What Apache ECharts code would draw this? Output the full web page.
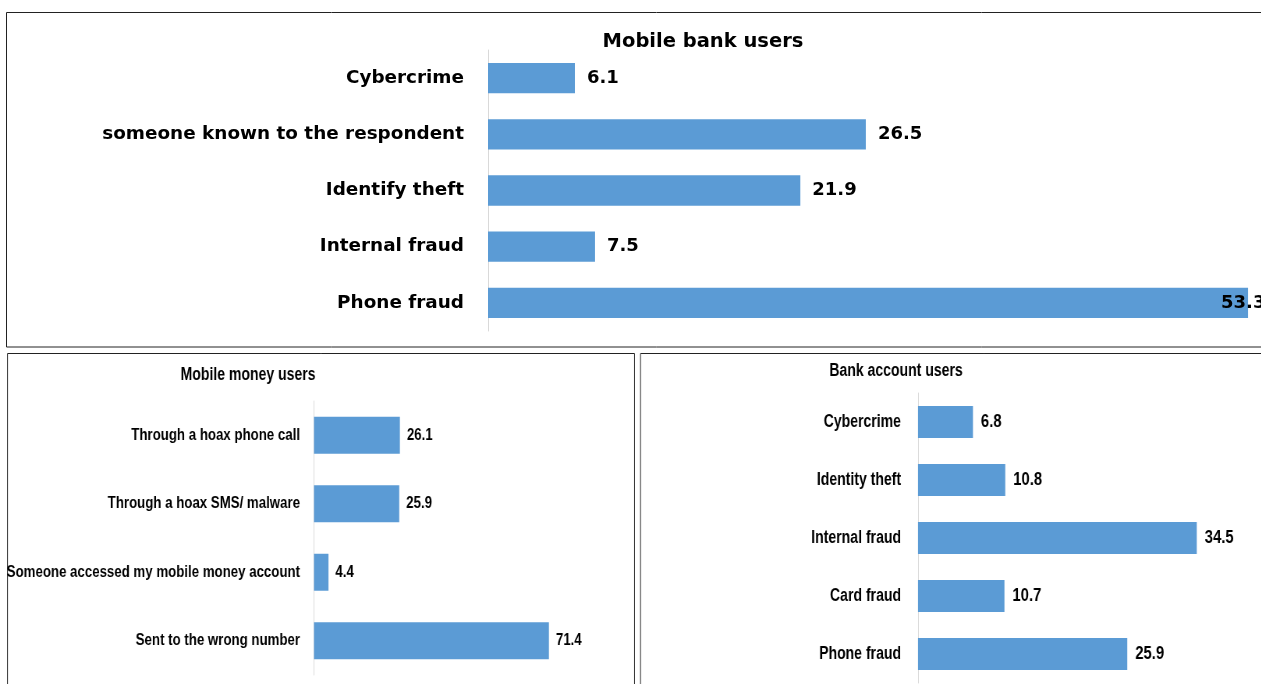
<!DOCTYPE html>
<html>
<head>
<meta charset="utf-8">
<script src="https://cdn.jsdelivr.net/npm/echarts@6/dist/echarts.min.js"></script>
<style>
html,body{margin:0;padding:0;overflow:hidden;background:#fff;width:1261px;height:684px;position:relative;}
#top{width:1400px;height:350px;position:absolute;left:0;top:0;}
#bottom{width:1700px;height:340px;position:absolute;left:0;top:350px;transform:scaleX(0.78);transform-origin:0 0;}
</style>
</head>
<body>
<div id="top"></div>
<div id="bottom"></div>
<script>
// Data
const bankTitle = 'Mobile bank users';
const bankCats = ['Cybercrime', 'someone known to the respondent', 'Identify theft', 'Internal fraud', 'Phone fraud'];
const bankVals = [6.1, 26.5, 21.9, 7.5, 53.3];

const moneyTitle = 'Mobile money users';
const moneyCats = ['Through a hoax phone call', 'Through a hoax SMS/ malware', 'Someone accessed my mobile money account', 'Sent to the wrong number'];
const moneyVals = [26.1, 25.9, 4.4, 71.4];

const acctTitle = 'Bank account users';
const acctCats = ['Cybercrime', 'Identity theft', 'Internal fraud', 'Card fraud', 'Phone fraud'];
const acctVals = [6.8, 10.8, 34.5, 10.7, 25.9];

const BAR = '#5B9BD5';
const WIDE = "'DejaVu Sans', Verdana, sans-serif";
const NARROW = "'Liberation Sans', Arial, sans-serif";
const S = 0.78; // horizontal squeeze of bottom panels

function yAx(idx, cats, size, margin, font) {
  return {
    type: 'category', gridIndex: idx, data: cats, inverse: true,
    axisLine: {show: true, lineStyle: {color: '#D9D9D9', width: 1}},
    axisTick: {show: false},
    axisLabel: {margin: margin, fontSize: size, fontWeight: 'bold', color: '#000', fontFamily: font}
  };
}
function xAx(idx, max) {
  return {type: 'value', gridIndex: idx, min: 0, max: max, show: false, splitLine: {show: false}};
}
function box(x, y, w, h) {
  return {type: 'rect', shape: {x: x, y: y, width: w, height: h}, style: {fill: 'none', stroke: '#222', lineWidth: 1}, silent: true, z: -1};
}
function ttl(x, y, text, size, font) {
  return {type: 'text', x: x, y: y, style: {text: text, fontSize: size, fontWeight: 'bold', fill: '#000', fontFamily: font, textAlign: 'center', textVerticalAlign: 'middle'}};
}

// ---------- Top panel ----------
const topChart = echarts.init(document.getElementById('top'));
const bankData = bankVals.map((v, i) => {
  if (i === bankVals.length - 1) {
    return {value: v, label: {position: 'right', distance: 0, offset: [-27, 0]}};
  }
  return v;
});
topChart.setOption({
  animation: false,
  grid: [{left: 488, top: 50, width: 855.6, height: 281, outerBoundsMode: 'none', containLabel: false}],
  xAxis: [xAx(0, 60)],
  yAxis: [yAx(0, bankCats, 18.4, 24, WIDE)],
  series: [{
    type: 'bar', data: bankData, barCategoryGap: '46%',
    itemStyle: {color: BAR},
    label: {show: true, position: 'right', distance: 12, fontSize: 18, fontWeight: 'bold', color: '#000', fontFamily: WIDE}
  }],
  graphic: [
    box(6.5, 12.5, 1300, 334.5),
    ttl(703, 41.5, bankTitle, 19.5, WIDE)
  ]
});

// ---------- Bottom panels (drawn wide, squeezed by CSS) ----------
const botChart = echarts.init(document.getElementById('bottom'));
botChart.setOption({
  animation: false,
  grid: [
    {left: 314 / S, top: 51, width: 263.2 / S, height: 274, outerBoundsMode: 'none', containLabel: false},
    {left: 918 / S, top: 43, width: 323.2 / S, height: 290, outerBoundsMode: 'none', containLabel: false}
  ],
  xAxis: [xAx(0, 80), xAx(1, 40)],
  yAxis: [yAx(0, moneyCats, 17, 14 / S, NARROW), yAx(1, acctCats, 18, 17 / S, NARROW)],
  series: [
    {
      type: 'bar', xAxisIndex: 0, yAxisIndex: 0, data: moneyVals, barCategoryGap: '46%',
      itemStyle: {color: BAR},
      label: {show: true, position: 'right', distance: 7 / S, fontSize: 17, fontWeight: 'bold', color: '#000', fontFamily: NARROW}
    },
    {
      type: 'bar', xAxisIndex: 1, yAxisIndex: 1, data: acctVals, barCategoryGap: '45%',
      itemStyle: {color: BAR},
      label: {show: true, position: 'right', distance: 8 / S, fontSize: 19, fontWeight: 'bold', color: '#000', fontFamily: NARROW}
    }
  ],
  graphic: [
    box(7.5 / S, 3.5, 627 / S, 400),
    box(640.5 / S, 3.5, 900, 400),
    ttl(248 / S, 25, moneyTitle, 18, NARROW),
    ttl(896 / S, 21, acctTitle, 18, NARROW)
  ]
});
</script>
</body>
</html>
